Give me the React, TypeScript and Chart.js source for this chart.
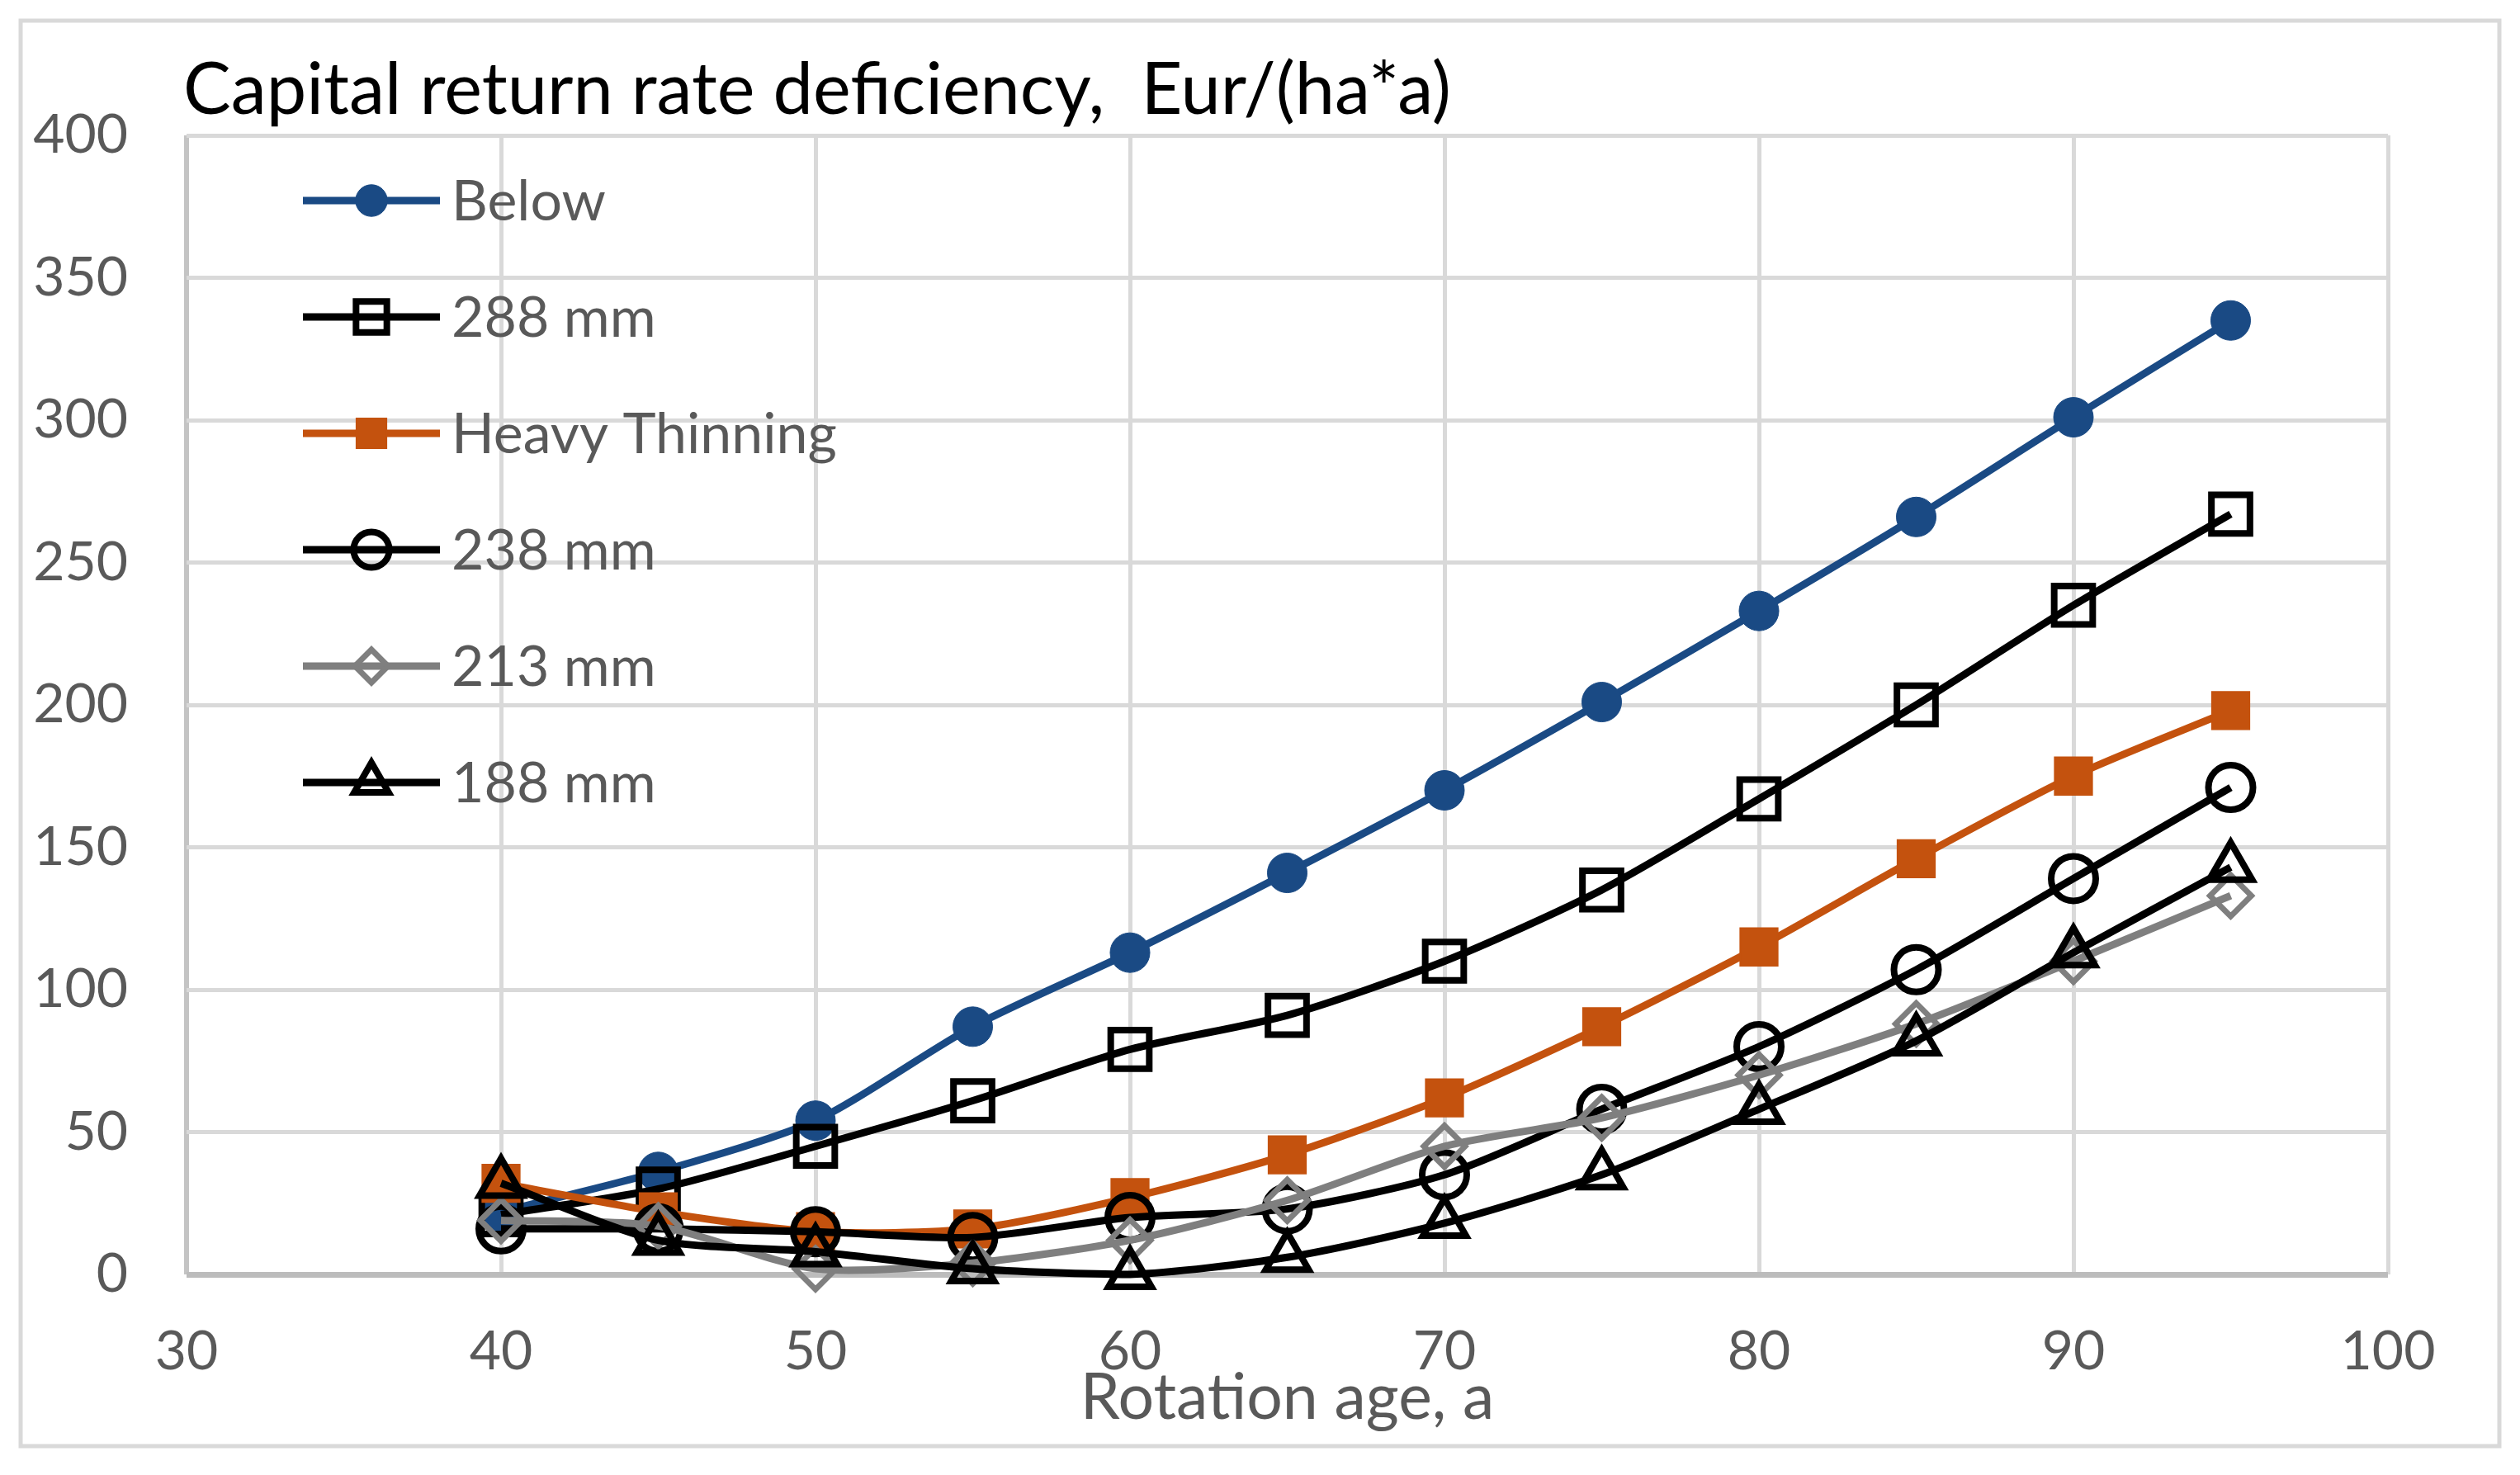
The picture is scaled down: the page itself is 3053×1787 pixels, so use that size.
import React, { useEffect, useRef } from 'react';
import { Chart, registerables } from 'chart.js';
import { drawPoint } from 'chart.js/helpers';

Chart.register(...registerables);

// ---- data ----
const ages = [40, 45, 50, 55, 60, 65, 70, 75, 80, 85, 90, 95];
const below = [22, 36, 54, 87, 113, 141, 170, 201, 233, 266, 301, 335];
const mm288 = [21, 30, 45, 61, 79, 91, 110, 135, 167, 200, 235, 267];
const heavyThinning = [32, 22, 15, 16, 27, 42, 62, 87, 115, 146, 175, 198];
const mm238 = [16, 16, 15, 13, 20, 23, 35, 58, 80, 107, 139, 171];
const mm213 = [19, 17, 2, 4, 12, 26, 45, 55, 70, 88, 110, 133];
const mm188 = [32, 12, 8, 2, 0, 6, 18, 35, 58, 82, 113, 143];

const seriesLabels = ['Below', '288 mm', 'Heavy Thinning', '238 mm', '213 mm', '188 mm'];
const xTicks = [30, 40, 50, 60, 70, 80, 90, 100];
const yTicks = [0, 50, 100, 150, 200, 250, 300, 350, 400];
const chartTitle = 'Capital return rate deficiency,  Eur/(ha*a)';
const xTitle = 'Rotation age, a';

const W = 3053;
const H = 1787;
const FONT = 'Lato, "Open Sans", sans-serif';
const TICK_COLOR = '#595959';

type Style = {
  color: string;
  point: string;
  radius: number;
  fill: string;
  bw: number;
};

const styles: Style[] = [
  { color: '#1a4a84', point: 'circle', radius: 24, fill: '#1a4a84', bw: 1 },
  { color: '#000000', point: 'rect', radius: 33, fill: 'rgba(0,0,0,0)', bw: 8 },
  { color: '#c4520e', point: 'rect', radius: 32, fill: '#c4520e', bw: 2 },
  { color: '#000000', point: 'circle', radius: 27, fill: 'rgba(0,0,0,0)', bw: 8 },
  { color: '#7f7f7f', point: 'rectRot', radius: 25, fill: 'rgba(0,0,0,0)', bw: 7 },
  { color: '#000000', point: 'triangle', radius: 30, fill: 'rgba(0,0,0,0)', bw: 8 },
];

const seriesValues = [below, mm288, heavyThinning, mm238, mm213, mm188];

const framePlugin = {
  id: 'frame',
  beforeDraw(chart: any) {
    const ctx = chart.ctx;
    ctx.save();
    ctx.fillStyle = '#ffffff';
    ctx.fillRect(0, 0, chart.width, chart.height);
    ctx.strokeStyle = '#d9d9d9';
    ctx.lineWidth = 5;
    ctx.strokeRect(25, 25, 3003, 1727);
    ctx.restore();
  },
  afterDraw(chart: any) {
    const ctx = chart.ctx;
    ctx.save();
    // title
    ctx.fillStyle = '#000000';
    ctx.textBaseline = 'alphabetic';
    ctx.textAlign = 'left';
    ctx.font = `100px ${FONT}`;
    const m = ctx.measureText(chartTitle).width;
    const size = Math.min(88, (100 * 1536) / m);
    ctx.font = `${size}px ${FONT}`;
    ctx.fillText(chartTitle, 222, 138);

    // legend
    const x0 = 367;
    const x1 = 533;
    const xm = 450;
    const textX = 547;
    chart.data.datasets.forEach((ds: any, i: number) => {
      const st = styles[i];
      const y = 243 + i * 141;
      ctx.strokeStyle = st.color;
      ctx.lineWidth = 9;
      ctx.lineCap = 'butt';
      ctx.beginPath();
      ctx.moveTo(x0, y);
      ctx.lineTo(x1, y);
      ctx.stroke();
      ctx.fillStyle = st.fill;
      ctx.strokeStyle = st.color;
      ctx.lineWidth = st.bw;
      drawPoint(ctx, { pointStyle: st.point, radius: st.radius * 0.8, borderWidth: st.bw, rotation: 0 } as any, xm, y);
      ctx.fillStyle = TICK_COLOR;
      ctx.font = `68px ${FONT}`;
      ctx.textBaseline = 'middle';
      ctx.fillText(ds.label, textX, y + 2);
    });
    ctx.restore();
  },
};

export default function App() {
  const ref = useRef<HTMLCanvasElement | null>(null);

  useEffect(() => {
    document.body.style.margin = '0';
    const canvas = ref.current!;
    Chart.defaults.font.family = FONT;

    const datasets = seriesValues.map((vals, i) => {
      const st = styles[i];
      return {
        label: seriesLabels[i],
        data: ages.map((a, j) => ({ x: a, y: vals[j] })),
        borderColor: st.color,
        backgroundColor: st.fill,
        borderWidth: 9,
        pointStyle: st.point,
        pointRadius: st.radius,
        pointBorderWidth: st.bw,
        pointBackgroundColor: st.fill,
        pointBorderColor: st.color,
        tension: 0.25,
        order: seriesValues.length - i,
        clip: false as any,
      };
    });

    const chart = new Chart(canvas, {
      type: 'line',
      data: { datasets },
      plugins: [framePlugin],
      options: {
        animation: false,
        responsive: false,
        devicePixelRatio: 1,
        layout: { padding: { top: 164, right: 160, bottom: 0, left: 0 } },
        plugins: {
          legend: { display: false },
          tooltip: { enabled: false },
          title: { display: false },
        },
        scales: {
          x: {
            type: 'linear',
            min: 30,
            max: 100,
            afterBuildTicks: (s: any) => {
              s.ticks = xTicks.map((v) => ({ value: v }));
            },
            afterFit: (s: any) => {
              s.height = H - 1544;
            },
            ticks: {
              font: { size: 66, family: FONT },
              color: TICK_COLOR,
              padding: 54,
              maxRotation: 0,
              autoSkip: false,
            },
            grid: {
              color: (c: any) => (c.tick && c.tick.value === 30 ? '#c4c4c4' : '#d9d9d9'),
              lineWidth: (c: any) => (c.tick && c.tick.value === 30 ? 6 : 5),
              drawTicks: false,
            },
            border: { display: false },
            title: {
              display: true,
              text: xTitle,
              font: { size: 77, family: FONT },
              color: TICK_COLOR,
              padding: { top: 0, bottom: 47 },
            },
          },
          y: {
            type: 'linear',
            min: 0,
            max: 400,
            afterBuildTicks: (s: any) => {
              s.ticks = yTicks.map((v) => ({ value: v }));
            },
            afterFit: (s: any) => {
              s.width = 226;
            },
            ticks: {
              font: { size: 66, family: FONT },
              color: TICK_COLOR,
              padding: 71,
            },
            grid: {
              color: (c: any) => (c.tick && c.tick.value === 0 ? '#bcbcbc' : '#d9d9d9'),
              lineWidth: (c: any) => (c.tick && c.tick.value === 0 ? 7 : 5),
              drawTicks: false,
            },
            border: { display: false },
          },
        },
      } as any,
    });

    return () => chart.destroy();
  }, []);

  return (
    <div style={{ width: W, height: H }}>
      <canvas ref={ref} width={W} height={H} style={{ width: W, height: H, display: 'block' }} />
    </div>
  );
}
